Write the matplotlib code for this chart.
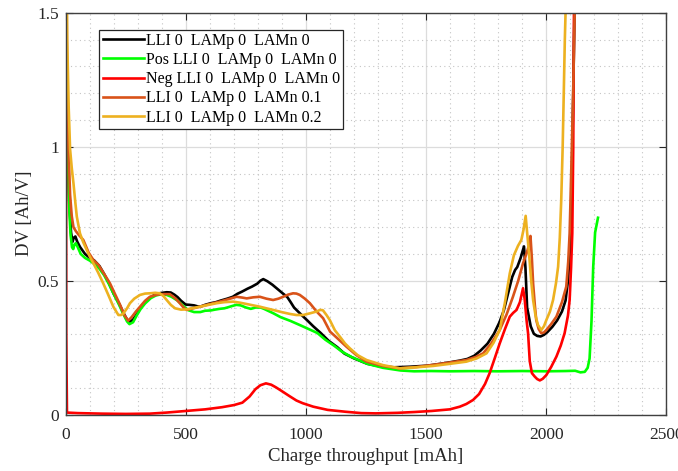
import matplotlib
matplotlib.use("Agg")
import matplotlib.pyplot as plt
from matplotlib.ticker import MultipleLocator

plt.rcParams['font.family'] = ['Liberation Serif', 'DejaVu Serif']

# Differential voltage curves: charge throughput [mAh] vs DV [Ah/V]
base_x = [0, 4, 9, 15, 22, 28, 33, 40, 48, 60, 80, 100, 118, 140, 159, 180, 200, 222, 240, 255,
          265, 280, 295, 312, 330, 354, 375, 395, 420, 437, 452, 465, 480, 499, 515, 534, 550, 562,
          580, 603, 625, 645, 672, 695, 714, 735, 756, 775, 797, 810, 822, 839, 860, 880, 900, 922,
          936, 950, 978, 1005, 1030, 1061, 1095, 1130, 1160, 1200, 1255, 1310, 1366, 1430, 1505,
          1560, 1601, 1640, 1671, 1700, 1726, 1755, 1782, 1805, 1823, 1840, 1858, 1870, 1879, 1893,
          1907, 1913, 1920, 1935, 1948, 1962, 1976, 1990, 2004, 2025, 2045, 2065, 2080, 2090, 2097,
          2103, 2107, 2112, 2117, 2122]
base_y = [2.0, 1.3, 0.95, 0.78, 0.68, 0.645, 0.66, 0.665, 0.645, 0.625, 0.60, 0.585, 0.576, 0.555,
          0.526, 0.49, 0.45, 0.414, 0.38, 0.355, 0.345, 0.355, 0.375, 0.40, 0.42, 0.439, 0.45, 0.454,
          0.457, 0.456, 0.448, 0.439, 0.425, 0.411, 0.41, 0.408, 0.404, 0.404, 0.41, 0.416, 0.42,
          0.426, 0.433, 0.44, 0.451, 0.46, 0.470, 0.478, 0.489, 0.50, 0.506, 0.498, 0.485, 0.470,
          0.455, 0.439, 0.42, 0.40, 0.375, 0.352, 0.33, 0.305, 0.275, 0.252, 0.228, 0.21, 0.19, 0.18,
          0.177, 0.179, 0.183, 0.19, 0.196, 0.202, 0.208, 0.22, 0.239, 0.265, 0.302, 0.345, 0.389,
          0.45, 0.514, 0.54, 0.551, 0.585, 0.628, 0.55, 0.40, 0.33, 0.302, 0.294, 0.292, 0.298, 0.308,
          0.328, 0.352, 0.385, 0.426, 0.50, 0.60, 0.75, 0.925, 1.2, 1.5, 1.9]

pos_x = [0, 4, 9, 14, 20, 26, 31, 36, 42, 50, 62, 80, 100, 118, 140, 160, 180, 200, 222, 240, 255,
         265, 280, 295, 312, 330, 354, 375, 395, 420, 440, 465, 490, 510, 534, 560, 580, 603, 620,
         640, 660, 672, 690, 710, 728, 750, 770, 790, 811, 825, 839, 865, 894, 935, 978, 1010, 1047,
         1080, 1116, 1150, 1190, 1255, 1320, 1394, 1450, 1520, 1600, 1700, 1800, 1900, 2000, 2080,
         2120, 2142, 2160, 2172, 2180, 2188, 2195, 2203, 2215]
pos_y = [2.0, 1.3, 0.95, 0.78, 0.67, 0.625, 0.618, 0.635, 0.64, 0.625, 0.60, 0.585, 0.575, 0.563,
         0.545, 0.52, 0.487, 0.45, 0.41, 0.375, 0.348, 0.338, 0.345, 0.37, 0.395, 0.415, 0.435,
         0.445, 0.449, 0.447, 0.44, 0.426, 0.405, 0.39, 0.383, 0.383, 0.388, 0.389, 0.392, 0.395,
         0.397, 0.40, 0.405, 0.41, 0.408, 0.40, 0.395, 0.40, 0.40, 0.395, 0.389, 0.378, 0.364, 0.35,
         0.333, 0.32, 0.305, 0.28, 0.258, 0.235, 0.215, 0.19, 0.175, 0.165, 0.162, 0.163, 0.162,
         0.163, 0.162, 0.163, 0.162, 0.163, 0.164, 0.158, 0.16, 0.175, 0.21, 0.35, 0.55, 0.68, 0.735]

neg_x = [0, 2, 5, 50, 150, 250, 350, 420, 500, 580, 650, 700, 735, 765, 789, 810, 833, 855, 875,
         896, 930, 960, 986, 1030, 1090, 1165, 1230, 1290, 1380, 1450, 1523, 1598, 1640, 1667, 1695,
         1720, 1745, 1764, 1785, 1806, 1828, 1848, 1862, 1876, 1890, 1903, 1910, 1918, 1924, 1931,
         1940, 1952, 1962, 1973, 1985, 2000, 2020, 2042, 2060, 2076, 2090, 2097, 2103, 2108, 2112,
         2115, 2118]
neg_y = [1.9, 0.3, 0.008, 0.006, 0.004, 0.003, 0.004, 0.008, 0.014, 0.02, 0.028, 0.036, 0.045,
         0.068, 0.095, 0.11, 0.117, 0.112, 0.102, 0.09, 0.07, 0.053, 0.043, 0.03, 0.018, 0.011,
         0.006, 0.005, 0.007, 0.01, 0.014, 0.02, 0.03, 0.04, 0.055, 0.077, 0.115, 0.155, 0.21, 0.266,
         0.32, 0.366, 0.38, 0.391, 0.42, 0.472, 0.43, 0.35, 0.304, 0.2, 0.155, 0.142, 0.133, 0.128,
         0.134, 0.148, 0.178, 0.217, 0.258, 0.304, 0.37, 0.428, 0.55, 0.677, 1.0, 1.5, 1.9]

lamn1_x = [0, 5, 11, 18, 25, 32, 42, 55, 73, 95, 115, 136, 160, 184, 205, 226, 245, 260, 275, 292,
           309, 330, 350, 380, 406, 433, 455, 475, 490, 503, 530, 558, 600, 641, 680, 711, 735, 753,
           780, 808, 835, 863, 885, 905, 925, 946, 960, 974, 995, 1016, 1044, 1071, 1100, 1127, 1168,
           1210, 1252, 1320, 1390, 1460, 1529, 1600, 1667, 1705, 1737, 1770, 1806, 1835, 1861, 1883,
           1903, 1917, 1927, 1934, 1940, 1945, 1952, 1958, 1968, 1979, 1990, 2000, 2020, 2042, 2065,
           2083, 2091, 2097, 2104, 2111, 2118, 2123]
lamn1_y = [2.0, 1.35, 1.0, 0.82, 0.74, 0.70, 0.685, 0.67, 0.652, 0.605, 0.577, 0.559, 0.525, 0.49,
           0.45, 0.41, 0.37, 0.351, 0.365, 0.385, 0.403, 0.425, 0.44, 0.448, 0.45, 0.45, 0.435,
           0.416, 0.40, 0.391, 0.397, 0.403, 0.413, 0.422, 0.432, 0.44, 0.437, 0.434, 0.438, 0.44,
           0.433, 0.428, 0.433, 0.44, 0.448, 0.453, 0.452, 0.447, 0.433, 0.416, 0.385, 0.36, 0.31,
           0.288, 0.254, 0.222, 0.198, 0.182, 0.173, 0.178, 0.186, 0.195, 0.204, 0.215, 0.229, 0.265,
           0.316, 0.375, 0.44, 0.50, 0.565, 0.60, 0.63, 0.667, 0.58, 0.49, 0.41, 0.353, 0.32, 0.304,
           0.307, 0.316, 0.338, 0.366, 0.42, 0.478, 0.57, 0.677, 0.92, 1.175, 1.5, 1.9]

lamn2_x = [0, 6, 12, 18, 25, 32, 40, 46, 59, 72, 87, 100, 115, 135, 156, 178, 198, 210, 219, 230,
           240, 255, 267, 285, 309, 330, 350, 372, 392, 407, 420, 437, 455, 480, 503, 530, 558, 595,
           628, 660, 697, 725, 753, 780, 808, 835, 863, 898, 933, 960, 988, 1015, 1044, 1058, 1070,
           1085, 1099, 1120, 1141, 1162, 1182, 1215, 1252, 1320, 1390, 1460, 1529, 1600, 1667, 1710,
           1751, 1780, 1806, 1828, 1848, 1865, 1882, 1896, 1905, 1914, 1920, 1928, 1937, 1945, 1955,
           1965, 1979, 1990, 2000, 2015, 2028, 2040, 2049, 2056, 2062, 2068, 2072, 2077, 2080, 2085]
lamn2_y = [2.2, 1.4, 1.15, 0.99, 0.92, 0.864, 0.79, 0.739, 0.677, 0.645, 0.615, 0.59, 0.565, 0.53,
           0.49, 0.445, 0.403, 0.385, 0.372, 0.372, 0.378, 0.397, 0.416, 0.433, 0.447, 0.452, 0.453,
           0.455, 0.453, 0.442, 0.428, 0.41, 0.397, 0.392, 0.393, 0.398, 0.403, 0.41, 0.416, 0.42,
           0.422, 0.418, 0.413, 0.408, 0.403, 0.397, 0.391, 0.383, 0.376, 0.372, 0.372, 0.378, 0.385,
           0.391, 0.39, 0.372, 0.353, 0.315, 0.291, 0.266, 0.248, 0.222, 0.204, 0.185, 0.173, 0.177,
           0.182, 0.19, 0.198, 0.21, 0.229, 0.268, 0.316, 0.42, 0.528, 0.595, 0.63, 0.652, 0.69,
           0.742, 0.68, 0.602, 0.50, 0.428, 0.37, 0.335, 0.316, 0.33, 0.353, 0.385, 0.428, 0.49,
           0.552, 0.66, 0.80, 1.0, 1.175, 1.4, 1.5, 1.9]

labels = ['LLI 0  LAMp 0  LAMn 0',
          'Pos LLI 0  LAMp 0  LAMn 0',
          'Neg LLI 0  LAMp 0  LAMn 0',
          'LLI 0  LAMp 0  LAMn 0.1',
          'LLI 0  LAMp 0  LAMn 0.2']
colors = ['#000000', '#00ff00', '#ff0000', '#d95319', '#edb120']

x_ticks = [0, 500, 1000, 1500, 2000, 2500]
y_ticks = [0, 0.5, 1, 1.5]
y_tick_labels = ['0', '0.5', '1', '1.5']

fig = plt.figure(figsize=(6.78, 4.71), dpi=100)
ax = fig.add_axes([0.097, 0.1195, 0.886, 0.8535])

series = [(base_x, base_y), (pos_x, pos_y), (neg_x, neg_y), (lamn1_x, lamn1_y), (lamn2_x, lamn2_y)]
for (xs, ys), lab, col in zip(series, labels, colors):
    ax.plot(xs, ys, color=col, lw=1.9, label=lab, solid_joinstyle='round')

ax.set_xlim(0, 2500)
ax.set_ylim(0, 1.5)
ax.set_xticks(x_ticks)
ax.set_yticks(y_ticks)
ax.set_yticklabels(y_tick_labels)
ax.xaxis.set_minor_locator(MultipleLocator(100))
ax.yaxis.set_minor_locator(MultipleLocator(0.1))

ax.grid(which='major', color='#dcdcdc', lw=0.9, ls='-')
ax.grid(which='minor', color='#c4c4c4', lw=0.8, ls=(0, (1, 3)))
ax.set_axisbelow(True)

ax.tick_params(which='major', direction='in', length=5, width=0.8, top=True, right=True,
               labelsize=12.5, colors='#262626')
ax.tick_params(axis='x', which='major', pad=8.5)
ax.tick_params(axis='y', which='major', pad=5)
ax.tick_params(which='minor', length=0)
for s in ax.spines.values():
    s.set_color('#404040')
    s.set_linewidth(1.0)

ax.set_xlabel('Charge throughput [mAh]', fontsize=13.5, color='#262626', labelpad=4)
ax.set_ylabel('DV [Ah/V]', fontsize=13.5, color='#262626', labelpad=3)

leg = ax.legend(loc='upper left', bbox_to_anchor=(0.056, 0.958), fontsize=11.5,
                frameon=True, fancybox=False, edgecolor='#262626', framealpha=1,
                handlelength=2.6, handletextpad=0.1, labelspacing=0.2,
                borderpad=0.2, borderaxespad=0)
leg.get_frame().set_linewidth(0.9)

fig.savefig('out.png', dpi=100)
